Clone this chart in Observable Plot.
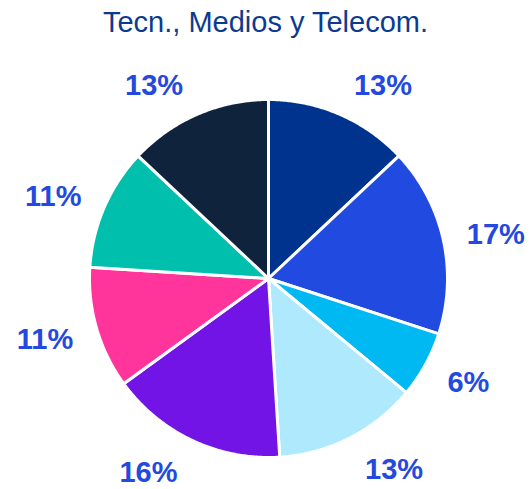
<!DOCTYPE html>
<html><head><meta charset="utf-8">
<script src="https://cdn.jsdelivr.net/npm/d3@7"></script>
<script src="https://cdn.jsdelivr.net/npm/@observablehq/plot@0.6"></script>
<style>
body{margin:0;background:#fff;font-family:"Liberation Sans",Arial,sans-serif}
#title{height:44px;box-sizing:border-box;padding-top:6px;text-align:center;font-size:29px;line-height:32px;color:#0b3b8f;white-space:nowrap}
#chart svg{display:block}
</style></head><body>
<div id="title"></div>
<div id="chart"></div>
<script>
const title = "Tecn., Medios y Telecom.";
const segments = ["Segmento 1","Segmento 2","Segmento 3","Segmento 4","Segmento 5","Segmento 6","Segmento 7","Segmento 8"];
const values = [13, 17, 6, 13, 16, 11, 11, 13];
const labels = ["13%","17%","6%","13%","16%","11%","11%","13%"];
const colors = ["#00338d","#214ae1","#00b9f2","#aee9fd","#7214e6","#ff359c","#00bfad","#0f233d"];

document.getElementById("title").textContent = title;

// layout (pixels)
const W = 531, H = 445, R = 179, CX = 268, CY = 234;
const total = d3.sum(values);

// slice polygons in unit-radius coordinates (angle clockwise from top)
const pts = [];
const labs = [];
let acc = 0;
values.forEach((v, i) => {
  const a0 = acc / total * 2 * Math.PI;
  acc += v;
  const a1 = acc / total * 2 * Math.PI;
  pts.push({seg: segments[i], x: 0, y: 0});
  const n = Math.max(2, Math.ceil((a1 - a0) / (Math.PI / 360)));
  for (let k = 0; k <= n; k++) {
    const a = a0 + (a1 - a0) * k / n;
    pts.push({seg: segments[i], x: Math.sin(a), y: Math.cos(a)});
  }
  pts.push({seg: segments[i], x: 0, y: 0});
  const am = (a0 + a1) / 2;
  const s = Math.sin(am), c = Math.cos(am);
  labs.push({
    seg: segments[i], label: labels[i], side: s >= 0 ? "right" : "left",
    x: (195 * s + (s >= 0 ? 8 : -8)) / R,
    y: (212 * c - 2) / R
  });
});

const chart = Plot.plot({
  width: W, height: H,
  margin: 0,
  style: {background: "#fff", overflow: "visible"},
  x: {domain: [-CX / R, (W - CX) / R], axis: null},
  y: {domain: [-(H - CY) / R, CY / R], axis: null},
  color: {domain: segments, range: colors},
  marks: [
    Plot.line(pts, {x: "x", y: "y", z: "seg", fill: "seg", stroke: "#fff", strokeWidth: 3, strokeLinejoin: "round", curve: "linear"}),
    Plot.text(labs.filter(d => d.side === "right"), {x: "x", y: "y", text: "label", textAnchor: "start", fill: "#2449e0", fontSize: 29, fontWeight: "bold", fontFamily: "Liberation Sans, Arial, sans-serif"}),
    Plot.text(labs.filter(d => d.side === "left"), {x: "x", y: "y", text: "label", textAnchor: "end", fill: "#2449e0", fontSize: 29, fontWeight: "bold", fontFamily: "Liberation Sans, Arial, sans-serif"})
  ]
});
document.getElementById("chart").appendChild(chart);
</script>
</body></html>
